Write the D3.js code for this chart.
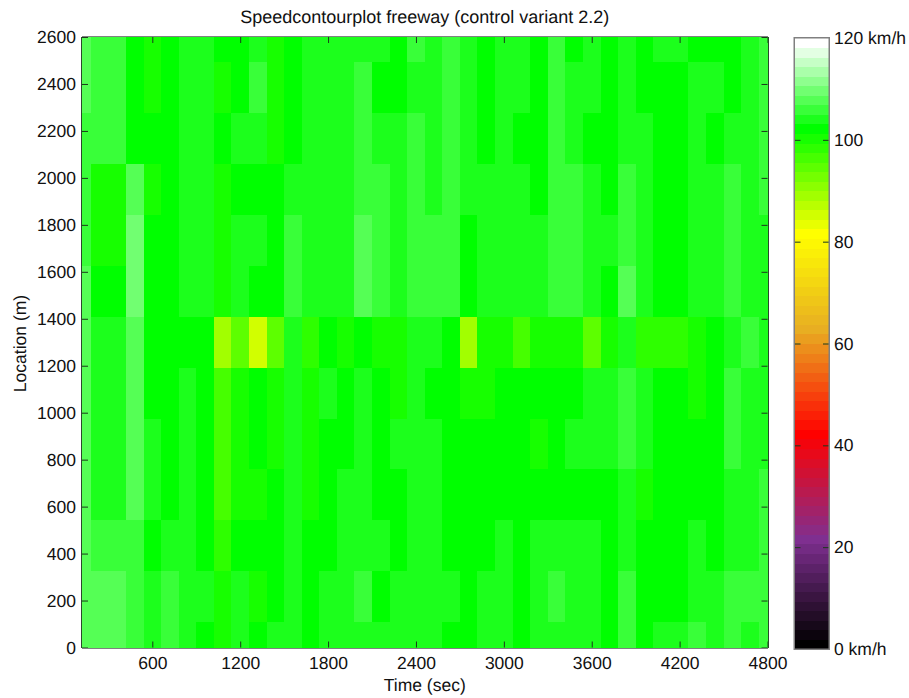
<!DOCTYPE html>
<html><head><meta charset="utf-8">
<script src="https://cdn.jsdelivr.net/npm/d3@7/dist/d3.min.js"></script>
<style>html,body{margin:0;padding:0;background:#fff}svg{display:block}text{font-family:"Liberation Sans",Arial,sans-serif;fill:#111;text-rendering:geometricPrecision}</style>
</head><body><svg id="c" width="909" height="698"></svg>
<script>
const title = "Speedcontourplot freeway (control variant 2.2)";
const xLabel = "Time (sec)", yLabel = "Location (m)";
const xTicks = [600,1200,1800,2400,3000,3600,4200,4800];
const yTicks = d3.range(0,2601,200);
const cbarTicks = [0,20,40,60,80,100,120];
const timeCentres = d3.range(120,4801,120);
const locationCentres = d3.range(0,13).map(i=>i*2600/12);
// speed levels used below (km/h)
const A=102,B=104,C=106,D=108,E=110,a=100,b=98,c=96,d=95;
// rows listed top (2600 m) to bottom (0 m), columns by time
const speeds = [
[D,C,C,A,a,A,B,B,A,A,B,a,A,B,B,B,B,B,A,C,B,C,B,A,B,B,A,C,A,B,A,B,A,B,B,A,A,A,B,C],
[D,C,C,A,a,A,B,B,a,A,C,a,A,B,B,B,C,A,A,B,B,C,B,A,B,B,A,C,B,B,A,B,A,A,A,B,B,A,B,C],
[C,C,C,A,A,A,B,B,A,B,B,a,A,B,B,B,C,B,B,C,B,C,B,A,B,A,A,C,B,A,A,B,B,A,A,B,A,B,B,C],
[C,a,a,D,a,A,B,B,a,A,A,A,B,B,B,B,C,C,B,C,B,C,B,B,B,B,A,C,C,B,A,C,B,A,A,B,B,C,B,C],
[C,a,a,E,A,A,B,B,a,B,B,A,C,B,B,B,D,C,B,C,C,C,A,B,B,B,B,C,C,B,B,C,B,A,A,B,B,C,B,B],
[D,A,A,E,A,A,B,B,a,B,A,A,C,B,B,B,D,C,B,C,C,C,A,B,B,B,B,C,C,B,A,D,B,A,A,B,B,C,B,B],
[D,B,B,D,A,A,A,A,89,d,86,d,B,b,A,a,A,a,a,B,B,A,89,a,a,c,a,a,a,94,a,B,b,b,b,a,A,B,C,B],
[D,B,B,D,A,A,B,A,c,a,A,a,B,a,B,A,B,A,a,B,A,A,a,a,A,A,A,A,A,B,B,C,B,A,A,a,A,C,B,B],
[D,B,B,D,B,A,B,A,c,a,A,a,B,a,A,A,B,A,B,B,B,A,A,A,A,A,a,A,B,B,B,C,B,A,A,A,A,C,B,B],
[D,B,B,D,B,A,B,A,c,a,a,A,B,a,A,B,B,A,A,B,B,A,A,A,A,A,A,A,A,A,A,B,a,A,A,A,A,B,B,C],
[D,C,C,C,A,B,B,A,b,A,A,A,B,A,A,B,B,B,A,B,B,A,A,A,B,A,B,B,B,B,A,B,A,A,A,B,A,B,B,C],
[D,D,D,C,B,C,B,B,a,B,a,A,B,A,B,B,C,A,B,B,B,B,A,B,B,A,B,C,B,B,A,C,A,A,A,B,B,C,C,C],
[D,D,D,C,B,C,B,A,a,B,A,B,B,A,B,B,B,B,B,B,B,A,A,B,B,A,B,B,B,B,A,C,A,B,B,C,B,C,B,C]
];
const stopLevels = [0,11,22,33,43,54,63];
const stopColors = ["#000000","#7f2f90","#ff0000","#e8ae22","#ffff00","#00ff00","#ffffff"];

const M = {l:82,r:767.5,t:37,b:647.5};
const CB = {l:794.5,r:829,t:38,b:649};
const svg = d3.select("#c");
const levelColor = d3.scaleLinear().domain(stopLevels).range(stopColors).interpolate(d3.interpolateRgb);
const levels = d3.range(64);
const palette = levels.map(l=>levelColor(l));
const color = d3.scaleQuantize().domain([0,120]).range(palette);
const x = d3.scaleLinear().domain([120,4800]).range([M.l,M.r]);
const y = d3.scaleLinear().domain([0,2600]).range([M.b,M.t]);
const yc = d3.scaleLinear().domain([0,120]).range([CB.b,CB.t]);
const dt = 120, dl = 2600/12;

const cells = speeds.flatMap((row,r)=>row.map((v,i)=>({v,t:timeCentres[i],l:locationCentres[12-r]})));
svg.append("g").attr("shape-rendering","crispEdges").selectAll("rect").data(cells).join("rect")
 .attr("x",d=>x(Math.max(120,d.t-dt/2)))
 .attr("width",d=>x(Math.min(4800,d.t+dt/2))-x(Math.max(120,d.t-dt/2)))
 .attr("y",d=>y(Math.min(2600,d.l+dl/2)))
 .attr("height",d=>y(Math.max(0,d.l-dl/2))-y(Math.min(2600,d.l+dl/2)))
 .attr("fill",d=>color(d.v));

function styleAxis(g,size){
  g.select(".domain").remove();
  g.selectAll(".tick line").attr("stroke","#1a3a1a").attr("stroke-width",1);
  g.selectAll(".tick text").attr("font-size",size).attr("fill","#111");
}
const fs = 17.5, tl = 6;
svg.append("g").attr("transform",`translate(0,${M.b})`)
 .call(d3.axisBottom(x).tickValues(xTicks).tickSizeInner(-tl).tickSizeOuter(0).tickPadding(9).tickFormat(d3.format("d")))
 .call(styleAxis,fs);
svg.append("g").attr("transform",`translate(0,${M.t})`)
 .call(d3.axisTop(x).tickValues(xTicks).tickSizeInner(-tl).tickSizeOuter(0).tickFormat(""))
 .call(styleAxis,fs);
svg.append("g").attr("transform",`translate(${M.l},0)`)
 .call(d3.axisLeft(y).tickValues(yTicks).tickSizeInner(-tl).tickSizeOuter(0).tickPadding(tl+0).tickFormat(d3.format("d")))
 .call(styleAxis,fs);
svg.append("g").attr("transform",`translate(${M.r},0)`)
 .call(d3.axisRight(y).tickValues(yTicks).tickSizeInner(-tl).tickSizeOuter(0).tickFormat(""))
 .call(styleAxis,fs);
const frame = svg.append("g").attr("fill","none").attr("shape-rendering","crispEdges");
frame.append("line").attr("x1",M.l-0.5).attr("x2",M.r+0.5).attr("y1",M.t-0.5).attr("y2",M.t-0.5).attr("stroke","#808080");
frame.append("line").attr("x1",M.l-0.5).attr("x2",M.r+0.5).attr("y1",M.b+0.5).attr("y2",M.b+0.5).attr("stroke","#808080");
frame.append("line").attr("x1",M.l-0.5).attr("x2",M.l-0.5).attr("y1",M.t).attr("y2",M.b).attr("stroke","#2a4a2a");
frame.append("line").attr("x1",M.r+0.5).attr("x2",M.r+0.5).attr("y1",M.t).attr("y2",M.b).attr("stroke","#2a4a2a");

// colour bar
svg.append("g").attr("shape-rendering","crispEdges").selectAll("rect").data(levels).join("rect")
 .attr("x",CB.l).attr("width",CB.r-CB.l)
 .attr("y",l=>yc((l+1)*120/64)).attr("height",l=>yc(l*120/64)-yc((l+1)*120/64)+0.5)
 .attr("fill",l=>palette[l]);
const cbFmt = d=> (d===0||d===120)? d+" km/h" : String(d);
svg.append("g").attr("transform",`translate(${CB.r},0)`)
 .call(d3.axisRight(yc).tickValues(cbarTicks).tickSizeInner(-6).tickSizeOuter(0).tickPadding(5).tickFormat(cbFmt))
 .call(styleAxis,fs)
 .call(g=>g.selectAll(".tick line").filter(d=>d===120).remove());
svg.append("g").attr("transform",`translate(${CB.l},0)`)
 .call(d3.axisLeft(yc).tickValues(cbarTicks).tickSizeInner(-6).tickSizeOuter(0).tickFormat(""))
 .call(styleAxis,fs)
 .call(g=>g.selectAll(".tick line").filter(d=>d===120).remove());
svg.append("rect").attr("x",CB.l-0.25).attr("y",CB.t-0.25).attr("width",CB.r-CB.l+0.5).attr("height",CB.b-CB.t+0.5)
 .attr("fill","none").attr("stroke","#808080").attr("stroke-width",1.5);

svg.append("text").attr("x",(M.l+M.r)/2).attr("y",23).attr("text-anchor","middle").attr("font-size",18).text(title);
svg.append("text").attr("x",(M.l+M.r)/2).attr("y",691).attr("text-anchor","middle").attr("font-size",fs).text(xLabel);
svg.append("text").attr("transform",`translate(26,343.5) rotate(-90)`).attr("text-anchor","middle").attr("font-size",fs).text(yLabel);
</script></body></html>
